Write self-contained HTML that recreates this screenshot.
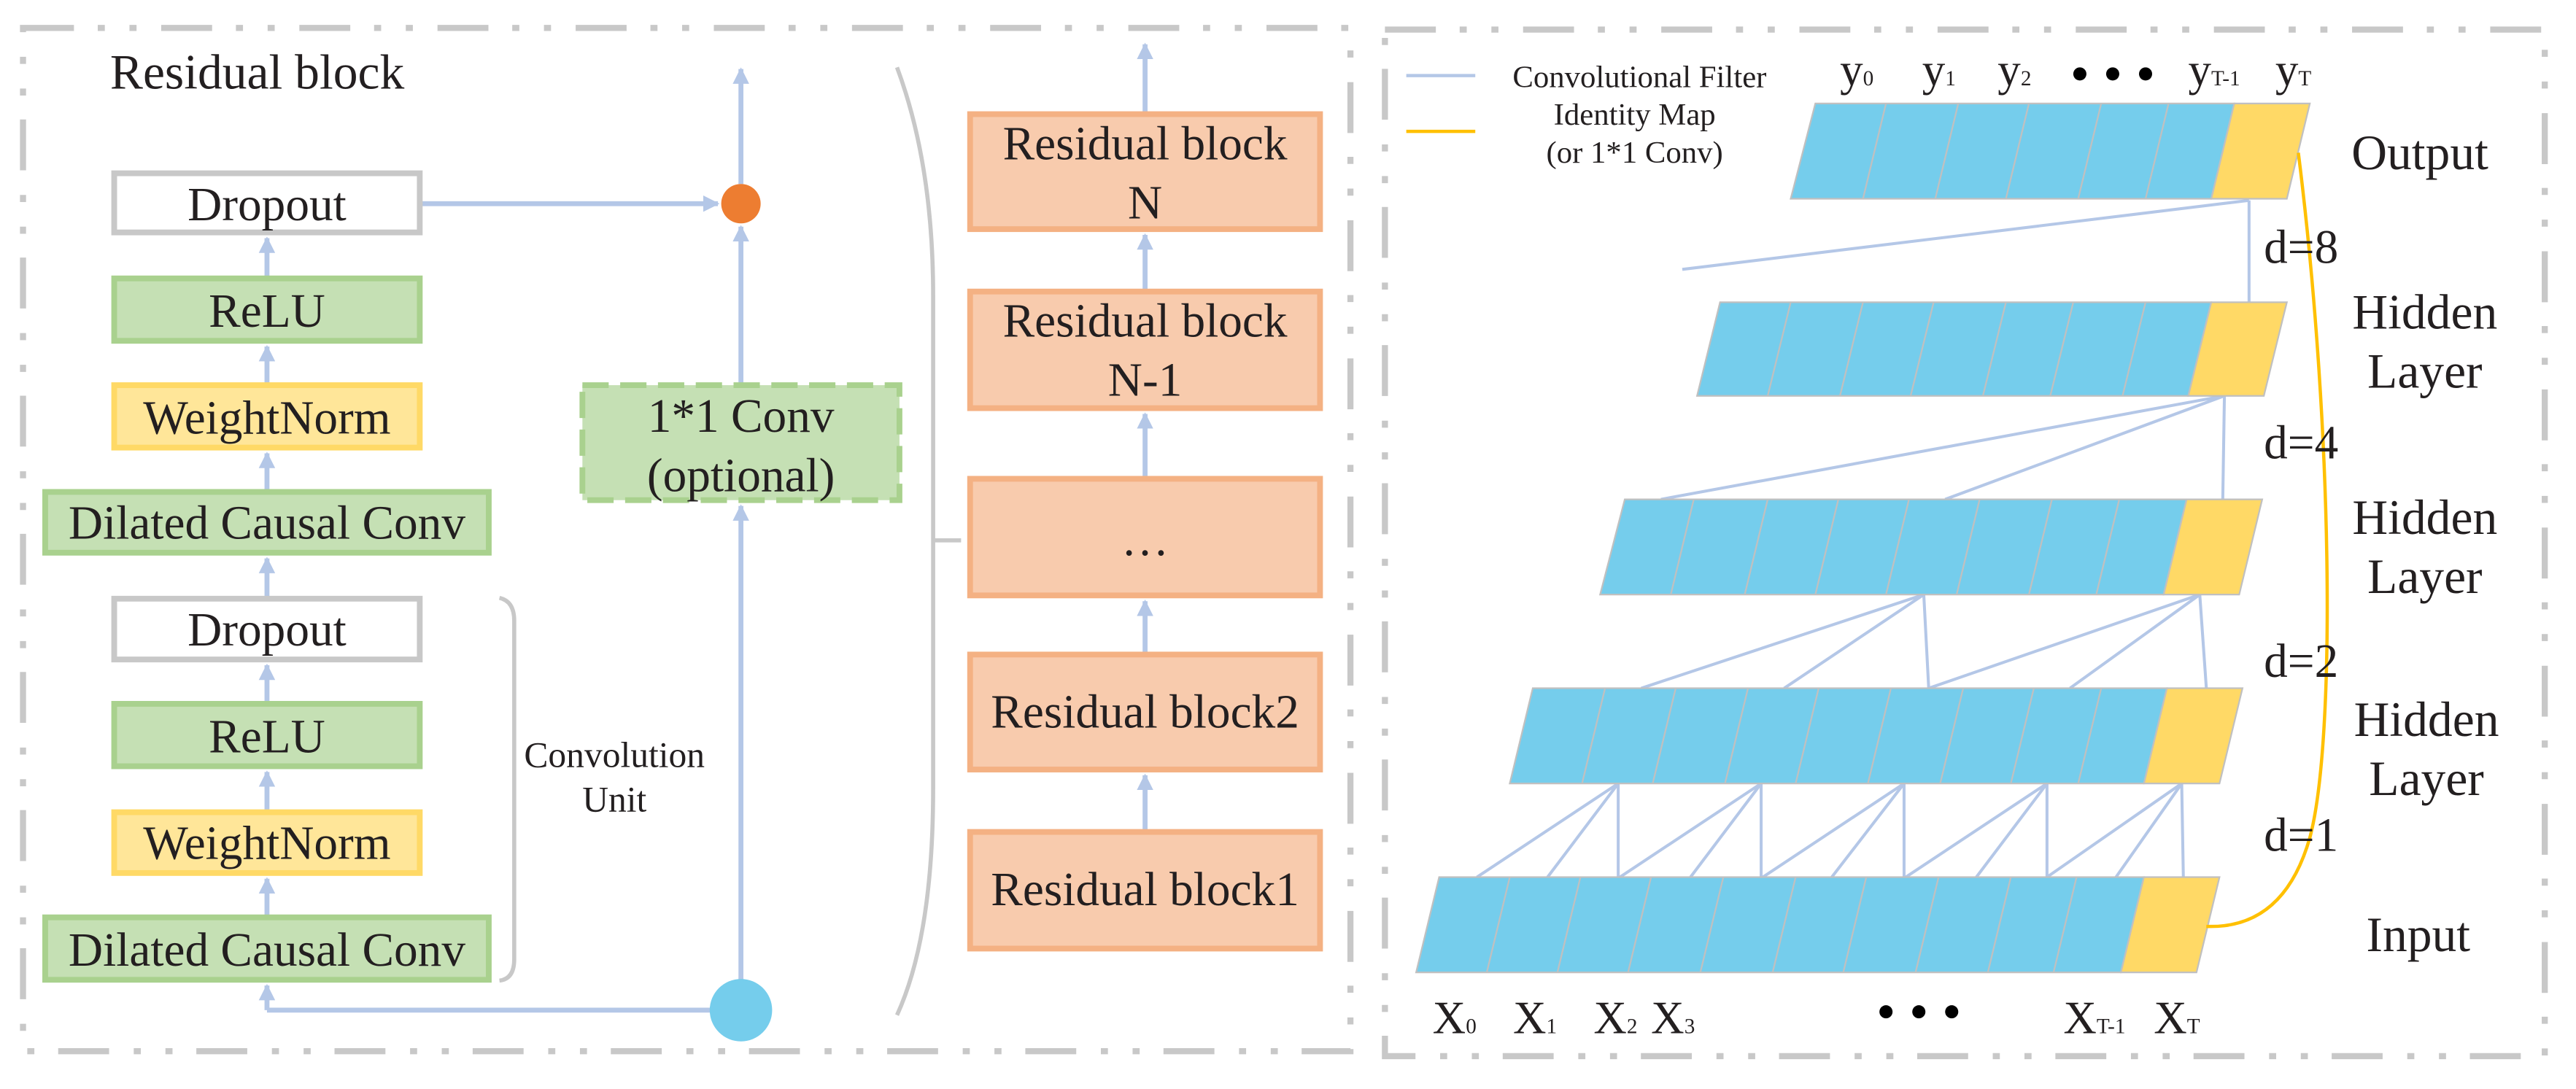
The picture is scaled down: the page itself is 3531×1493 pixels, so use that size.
<!DOCTYPE html>
<html><head><meta charset="utf-8"><style>
html,body{margin:0;padding:0;background:#fff;}
svg{display:block;}
text{font-family:"Liberation Serif",serif;fill:#231f20;}
</style></head><body>
<svg width="3531" height="1493" viewBox="0 0 1568 663" xmlns="http://www.w3.org/2000/svg">
<defs>
<marker id="ar" markerWidth="10" markerHeight="10" refX="9" refY="5" orient="auto" markerUnits="userSpaceOnUse">
<path d="M0,0 L10,5 L0,10 Z" fill="#b4c7e7"/></marker>
</defs>
<!-- frames -->
<g fill="none" stroke="#c8c8c8" stroke-width="3.7" stroke-dasharray="31 14.5 4.3 15 4.3 15">
<rect x="14" y="17" width="808" height="623"/>
<rect x="843" y="18" width="706" height="625"/>
</g>
<text x="67" y="54" font-size="30">Residual block</text>

<!-- left column arrows -->
<g stroke="#b4c7e7" stroke-width="3" fill="none" marker-end="url(#ar)">
<line x1="162.5" y1="168" x2="162.5" y2="145"/>
<line x1="162.5" y1="233" x2="162.5" y2="211"/>
<line x1="162.5" y1="298" x2="162.5" y2="276"/>
<line x1="162.5" y1="363" x2="162.5" y2="340"/>
<line x1="162.5" y1="427" x2="162.5" y2="405"/>
<line x1="162.5" y1="493" x2="162.5" y2="470"/>
<line x1="162.5" y1="557" x2="162.5" y2="535"/>
<line x1="162.5" y1="615" x2="162.5" y2="600"/>
<line x1="257" y1="124" x2="437" y2="124"/>
<line x1="451" y1="233" x2="451" y2="138"/>
<line x1="451" y1="112" x2="451" y2="42"/>
<line x1="451" y1="597" x2="451" y2="308"/>
</g>
<line x1="162.5" y1="615" x2="435" y2="615" stroke="#b4c7e7" stroke-width="3"/>

<!-- left boxes -->
<g stroke-width="3.5">
<rect x="69.5" y="105.5" width="186" height="36" fill="#fff" stroke="#c8c8c8"/>
<rect x="69.5" y="169.5" width="186" height="38" fill="#c5e0b4" stroke="#a9d18e"/>
<rect x="69.5" y="234.5" width="186" height="38" fill="#ffe699" stroke="#ffd966"/>
<rect x="27.5" y="299.5" width="270" height="37" fill="#c5e0b4" stroke="#a9d18e"/>
<rect x="69.5" y="364.5" width="186" height="37" fill="#fff" stroke="#c8c8c8"/>
<rect x="69.5" y="428.5" width="186" height="38" fill="#c5e0b4" stroke="#a9d18e"/>
<rect x="69.5" y="494.5" width="186" height="37" fill="#ffe699" stroke="#ffd966"/>
<rect x="27.5" y="558.5" width="270" height="38" fill="#c5e0b4" stroke="#a9d18e"/>
<rect x="354.5" y="234.5" width="193" height="70" fill="#c5e0b4" stroke="#a9d18e" stroke-dasharray="16 7"/>
</g>
<g font-size="29" text-anchor="middle">
<text x="162.5" y="134">Dropout</text>
<text x="162.5" y="199">ReLU</text>
<text x="162.5" y="264">WeightNorm</text>
<text x="162.5" y="328">Dilated Causal Conv</text>
<text x="162.5" y="393">Dropout</text>
<text x="162.5" y="458">ReLU</text>
<text x="162.5" y="523">WeightNorm</text>
<text x="162.5" y="588">Dilated Causal Conv</text>
<text x="451" y="263">1*1 Conv</text>
<text x="451" y="299">(optional)</text>
</g>
<ellipse cx="451" cy="124" rx="12" ry="12" fill="#ed7d31"/>
<ellipse cx="451" cy="615" rx="19" ry="19" fill="#75cdec"/>

<!-- convolution unit bracket -->
<path d="M304,364 Q313,366 313,378 L313,584 Q313,596 304,597" fill="none" stroke="#c8c8c8" stroke-width="2.5"/>
<text x="374" y="467" font-size="22" text-anchor="middle">Convolution</text>
<text x="374" y="494" font-size="22" text-anchor="middle">Unit</text>

<!-- big bracket -->
<path d="M546,41 Q568,100 568,180 L568,480 Q568,570 546,618" fill="none" stroke="#c8c8c8" stroke-width="2.5"/>
<line x1="568" y1="329" x2="585" y2="329" stroke="#c8c8c8" stroke-width="2.5"/>

<!-- right column -->
<g stroke="#b4c7e7" stroke-width="3" fill="none" marker-end="url(#ar)">
<line x1="697" y1="68" x2="697" y2="27"/>
<line x1="697" y1="176" x2="697" y2="143"/>
<line x1="697" y1="290" x2="697" y2="252"/>
<line x1="697" y1="397" x2="697" y2="366"/>
<line x1="697" y1="505" x2="697" y2="472"/>
</g>
<g fill="#f8cbad" stroke="#f4b183" stroke-width="3.5">
<rect x="590.5" y="69.5" width="213" height="70"/>
<rect x="590.5" y="177.5" width="213" height="71"/>
<rect x="590.5" y="291.5" width="213" height="71"/>
<rect x="590.5" y="398.5" width="213" height="70"/>
<rect x="590.5" y="506.5" width="213" height="71"/>
</g>
<g font-size="29" text-anchor="middle">
<text x="697" y="97">Residual block</text>
<text x="697" y="133">N</text>
<text x="697" y="205">Residual block</text>
<text x="697" y="241">N-1</text>
<text x="697" y="338">…</text>
<text x="697" y="443">Residual block2</text>
<text x="697" y="551">Residual block1</text>
</g>

<!-- right panel connections -->
<g stroke="#b4c7e7" stroke-width="1.8" fill="none">
<path d="M1369,122 L1024,164 M1369,122 L1369,184"/>
<path d="M1354,241 L1011,304 M1354,241 L1184,304 M1354,241 L1353,304"/>
<path d="M1171,362 L999,419 M1171,362 L1086,419 M1171,362 L1174,419"/>
<path d="M1339,362 L1174,419 M1339,362 L1260,419 M1339,362 L1343,419"/>
<path d="M985,477 L899,534 M985,477 L942,534 M985,477 L985,534"/>
<path d="M1072,477 L986,534 M1072,477 L1029,534 M1072,477 L1072,534"/>
<path d="M1159,477 L1073,534 M1159,477 L1115,534 M1159,477 L1159,534"/>
<path d="M1246,477 L1160,534 M1246,477 L1203,534 M1246,477 L1246,534"/>
<path d="M1328,477 L1246,534 M1328,477 L1288,534 M1328,477 L1329,534"/>
</g>

<!-- layers -->
<g stroke="#c0c0c0" stroke-width="1">
<!-- output -->
<polygon points="1105,63 1360,63 1346,121 1090,121" fill="#75cdec"/>
<polygon points="1360,63 1406,63 1392,121 1346,121" fill="#ffd966"/>
<path d="M1148,63 l-14,58 M1192,63 l-14,58 M1235,63 l-14,58 M1279,63 l-14,58 M1320,63 l-14,58"/>
<!-- hidden3 -->
<polygon points="1047,184 1346,184 1332,241 1033,241" fill="#75cdec"/>
<polygon points="1346,184 1392,184 1378,241 1332,241" fill="#ffd966"/>
<path d="M1090,184 l-14,57 M1134,184 l-14,57 M1177,184 l-14,57 M1221,184 l-14,57 M1262,184 l-14,57 M1306,184 l-14,57"/>
<!-- hidden2 -->
<polygon points="989,304 1331,304 1317,362 974,362" fill="#75cdec"/>
<polygon points="1331,304 1377,304 1363,362 1317,362" fill="#ffd966"/>
<path d="M1031,304 l-14,58 M1076,304 l-14,58 M1119,304 l-14,58 M1162,304 l-14,58 M1205,304 l-14,58 M1249,304 l-14,58 M1290,304 l-14,58"/>
<!-- hidden1 -->
<polygon points="933,419 1319,419 1305,477 919,477" fill="#75cdec"/>
<polygon points="1319,419 1365,419 1351,477 1305,477" fill="#ffd966"/>
<path d="M977,419 l-14,58 M1020,419 l-14,58 M1064,419 l-14,58 M1107,419 l-14,58 M1151,419 l-14,58 M1195,419 l-14,58 M1238,419 l-14,58 M1279,419 l-14,58"/>
<!-- input -->
<polygon points="876,534 1305,534 1291,592 862,592" fill="#75cdec"/>
<polygon points="1305,534 1351,534 1337,592 1291,592" fill="#ffd966"/>
<path d="M919,534 l-14,58 M962,534 l-14,58 M1005,534 l-14,58 M1049,534 l-14,58 M1093,534 l-14,58 M1136,534 l-14,58 M1180,534 l-14,58 M1224,534 l-14,58 M1264,534 l-14,58"/>
</g>
<path d="M1399,93 C1420,260 1422,450 1406,510 C1394,552 1370,565 1343,564" fill="none" stroke="#ffc000" stroke-width="2"/>

<!-- legend -->
<line x1="856" y1="46" x2="898" y2="46" stroke="#b4c7e7" stroke-width="2"/>
<line x1="856" y1="80" x2="898" y2="80" stroke="#ffc000" stroke-width="2"/>
<g font-size="19" text-anchor="middle">
<text x="998" y="53">Convolutional Filter</text>
<text x="995" y="76">Identity Map</text>
<text x="995" y="99">(or 1*1 Conv)</text>
</g>

<!-- labels -->
<g font-size="30" text-anchor="middle">
<text x="1473" y="103">Output</text>
<text x="1476" y="200">Hidden</text>
<text x="1476" y="236">Layer</text>
<text x="1476" y="325">Hidden</text>
<text x="1476" y="361">Layer</text>
<text x="1477" y="448">Hidden</text>
<text x="1477" y="484">Layer</text>
<text x="1472" y="579">Input</text>
</g>
<g font-size="29">
<text x="1378" y="160">d=8</text>
<text x="1378" y="279">d=4</text>
<text x="1378" y="412">d=2</text>
<text x="1378" y="518">d=1</text>
</g>
<g font-size="28">
<text x="1120" y="52">y<tspan font-size="13">0</tspan></text>
<text x="1170" y="52">y<tspan font-size="13">1</tspan></text>
<text x="1216" y="52">y<tspan font-size="13">2</tspan></text>
<text x="1332" y="52">y<tspan font-size="13">T-1</tspan></text>
<text x="1385" y="52">y<tspan font-size="13">T</tspan></text>
<text x="872" y="629">X<tspan font-size="13">0</tspan></text>
<text x="921" y="629">X<tspan font-size="13">1</tspan></text>
<text x="970" y="629">X<tspan font-size="13">2</tspan></text>
<text x="1005" y="629">X<tspan font-size="13">3</tspan></text>
<text x="1256" y="629">X<tspan font-size="13">T-1</tspan></text>
<text x="1311" y="629">X<tspan font-size="13">T</tspan></text>
</g>
<g fill="#000">
<circle cx="1266" cy="45" r="4"/><circle cx="1286" cy="45" r="4"/><circle cx="1306" cy="45" r="4"/>
<circle cx="1148" cy="616" r="4"/><circle cx="1168" cy="616" r="4"/><circle cx="1188" cy="616" r="4"/>
</g>
</svg>
</body></html>
